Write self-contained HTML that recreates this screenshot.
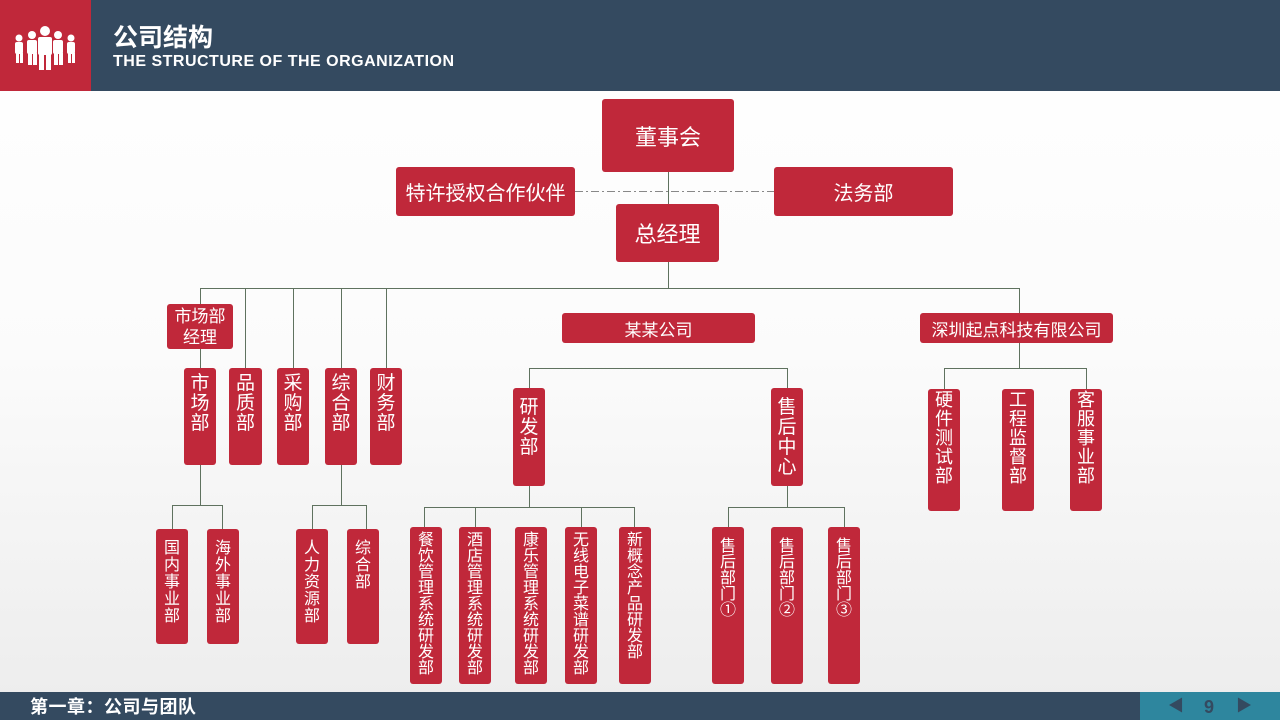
<!DOCTYPE html>
<html><head><meta charset="utf-8"><style>
*{margin:0;padding:0;box-sizing:border-box}
body{width:1280px;height:720px;position:relative;overflow:hidden;font-family:"Liberation Sans","Noto Sans CJK SC",sans-serif;background:linear-gradient(#ffffff 0%,#fbfbfb 50%,#ececec 100%)}
.a{position:absolute}
.b{position:absolute;background:#c0283a;color:#fff;border-radius:3px;display:flex;align-items:center;justify-content:center;text-align:center}
.v{position:absolute;background:#c0283a;color:#fff;border-radius:3px;display:flex;justify-content:center}
.v span{display:block;width:1em;word-break:break-all;text-align:center}
.h{position:absolute;height:1px;background:#5f725f}
.l{position:absolute;width:1px;background:#5f725f}
</style></head><body>
<div class="a" style="left:0;top:0;width:1280px;height:91px;background:#344a60"></div>
<div class="a" style="left:0;top:0;width:91px;height:91px;background:#c0283a"></div>
<svg class="a" style="left:12px;top:26px" width="66" height="46" viewBox="0 0 66 46" fill="#fff">
<circle cx="33" cy="5" r="5"/><rect x="26" y="11" width="14" height="18" rx="2"/><rect x="27" y="28" width="5" height="16"/><rect x="34" y="28" width="5" height="16"/>
<circle cx="20" cy="9" r="4"/><rect x="15" y="14" width="10" height="14" rx="2"/><rect x="16" y="27" width="4" height="12"/><rect x="21" y="27" width="4" height="12"/>
<circle cx="46" cy="9" r="4"/><rect x="41" y="14" width="10" height="14" rx="2"/><rect x="42" y="27" width="4" height="12"/><rect x="47" y="27" width="4" height="12"/>
<circle cx="7" cy="12" r="3.5"/><rect x="3" y="16" width="8" height="12" rx="2"/><rect x="4" y="27" width="3" height="10"/><rect x="8" y="27" width="3" height="10"/>
<circle cx="59" cy="12" r="3.5"/><rect x="55" y="16" width="8" height="12" rx="2"/><rect x="56" y="27" width="3" height="10"/><rect x="60" y="27" width="3" height="10"/>
</svg>
<div class="a" style="left:113px;top:23px;color:#fff;font-size:25px;font-weight:bold;line-height:30px">公司结构</div>
<div class="a" style="left:113px;top:53px;color:#fff;font-size:16px;font-weight:bold;line-height:18px;letter-spacing:0.5px">THE STRUCTURE OF THE ORGANIZATION</div>

<!-- lines -->
<div class="l" style="left:668px;top:172px;height:116px"></div>
<svg class="a" style="left:575px;top:190px" width="199" height="3"><line x1="0" y1="1.5" x2="199" y2="1.5" stroke="#888" stroke-width="1" stroke-dasharray="8,3,2,3"/></svg>
<div class="h" style="left:200px;top:288px;width:820px"></div>
<div class="l" style="left:200px;top:288px;height:217px"></div>
<div class="l" style="left:245px;top:288px;height:80px"></div>
<div class="l" style="left:293px;top:288px;height:80px"></div>
<div class="l" style="left:341px;top:288px;height:217px"></div>
<div class="l" style="left:386px;top:288px;height:80px"></div>
<div class="l" style="left:1019px;top:288px;height:80px"></div>
<div class="h" style="left:172px;top:505px;width:51px"></div>
<div class="l" style="left:172px;top:505px;height:24px"></div>
<div class="l" style="left:222px;top:505px;height:24px"></div>
<div class="h" style="left:312px;top:505px;width:55px"></div>
<div class="l" style="left:312px;top:505px;height:24px"></div>
<div class="l" style="left:366px;top:505px;height:24px"></div>
<div class="h" style="left:529px;top:368px;width:259px"></div>
<div class="l" style="left:529px;top:368px;height:139px"></div>
<div class="l" style="left:787px;top:368px;height:139px"></div>
<div class="h" style="left:424px;top:507px;width:211px"></div>
<div class="l" style="left:424px;top:507px;height:20px"></div>
<div class="l" style="left:475px;top:507px;height:20px"></div>
<div class="l" style="left:581px;top:507px;height:20px"></div>
<div class="l" style="left:634px;top:507px;height:20px"></div>
<div class="h" style="left:728px;top:507px;width:117px"></div>
<div class="l" style="left:728px;top:507px;height:20px"></div>
<div class="l" style="left:844px;top:507px;height:20px"></div>
<div class="h" style="left:944px;top:368px;width:143px"></div>
<div class="l" style="left:944px;top:368px;height:21px"></div>
<div class="l" style="left:1086px;top:368px;height:21px"></div>

<!-- top boxes -->
<div class="b" style="left:602px;top:99px;width:132px;height:73px;font-size:22px">董事会</div>
<div class="b" style="left:396px;top:167px;width:179px;height:49px;font-size:20px">特许授权合作伙伴</div>
<div class="b" style="left:774px;top:167px;width:179px;height:49px;font-size:20px">法务部</div>
<div class="b" style="left:616px;top:204px;width:103px;height:58px;font-size:22px">总经理</div>
<div class="b" style="left:167px;top:304px;width:66px;height:45px;font-size:17px;line-height:21px">市场部<br>经理</div>
<div class="b" style="left:562px;top:313px;width:193px;height:30px;font-size:17px">某某公司</div>
<div class="b" style="left:920px;top:313px;width:193px;height:30px;font-size:17px">深圳起点科技有限公司</div>

<!-- level vertical -->
<div class="v" style="left:184px;top:368px;width:32px;height:97px;font-size:19px;line-height:20px;padding-top:6px"><span>市场部</span></div>
<div class="v" style="left:229px;top:368px;width:33px;height:97px;font-size:19px;line-height:20px;padding-top:6px"><span>品质部</span></div>
<div class="v" style="left:277px;top:368px;width:32px;height:97px;font-size:19px;line-height:20px;padding-top:6px"><span>采购部</span></div>
<div class="v" style="left:325px;top:368px;width:32px;height:97px;font-size:19px;line-height:20px;padding-top:6px"><span>综合部</span></div>
<div class="v" style="left:370px;top:368px;width:32px;height:97px;font-size:19px;line-height:20px;padding-top:6px"><span>财务部</span></div>

<div class="v" style="left:156px;top:529px;width:32px;height:115px;font-size:16px;line-height:17px;padding-top:11px"><span>国内事业部</span></div>
<div class="v" style="left:207px;top:529px;width:32px;height:115px;font-size:16px;line-height:17px;padding-top:11px"><span>海外事业部</span></div>
<div class="v" style="left:296px;top:529px;width:32px;height:115px;font-size:16px;line-height:17px;padding-top:11px"><span>人力资源部</span></div>
<div class="v" style="left:347px;top:529px;width:32px;height:115px;font-size:16px;line-height:17px;padding-top:11px"><span>综合部</span></div>

<div class="v" style="left:513px;top:388px;width:32px;height:98px;font-size:19px;line-height:20px;padding-top:10px"><span>研发部</span></div>
<div class="v" style="left:771px;top:388px;width:32px;height:98px;font-size:19px;line-height:20px;padding-top:10px"><span>售后中心</span></div>

<div class="v" style="left:410px;top:527px;width:32px;height:157px;font-size:16px;line-height:16px;padding-top:6px"><span>餐饮管理系统研发部</span></div>
<div class="v" style="left:459px;top:527px;width:32px;height:157px;font-size:16px;line-height:16px;padding-top:6px"><span>酒店管理系统研发部</span></div>
<div class="v" style="left:515px;top:527px;width:32px;height:157px;font-size:16px;line-height:16px;padding-top:6px"><span>康乐管理系统研发部</span></div>
<div class="v" style="left:565px;top:527px;width:32px;height:157px;font-size:16px;line-height:16px;padding-top:6px"><span>无线电子菜谱研发部</span></div>
<div class="v" style="left:619px;top:527px;width:32px;height:157px;font-size:16px;line-height:16px;padding-top:6px"><span>新概念产品研发部</span></div>

<div class="v" style="left:712px;top:527px;width:32px;height:157px;font-size:16px;line-height:16px;padding-top:12px"><span>售后部门①</span></div>
<div class="v" style="left:771px;top:527px;width:32px;height:157px;font-size:16px;line-height:16px;padding-top:12px"><span>售后部门②</span></div>
<div class="v" style="left:828px;top:527px;width:32px;height:157px;font-size:16px;line-height:16px;padding-top:12px"><span>售后部门③</span></div>

<div class="v" style="left:928px;top:389px;width:32px;height:122px;font-size:18px;line-height:19px;padding-top:2px"><span>硬件测试部</span></div>
<div class="v" style="left:1002px;top:389px;width:32px;height:122px;font-size:18px;line-height:19px;padding-top:2px"><span>工程监督部</span></div>
<div class="v" style="left:1070px;top:389px;width:32px;height:122px;font-size:18px;line-height:19px;padding-top:2px"><span>客服事业部</span></div>

<!-- footer -->
<div class="a" style="left:0;top:692px;width:1280px;height:28px;background:#344a60"></div>
<div class="a" style="left:1140px;top:692px;width:140px;height:28px;background:#2e869e"></div>
<div class="a" style="left:30px;top:696px;color:#fff;font-size:18px;font-weight:bold;line-height:22px;letter-spacing:0.5px">第一章：公司与团队</div>
<div class="a" style="left:1168px;top:697px;color:#344a60;font-size:16px;line-height:20px">◀</div>
<div class="a" style="left:1204px;top:696px;color:#344a60;font-size:18px;font-weight:bold;line-height:22px">9</div>
<div class="a" style="left:1236px;top:697px;color:#344a60;font-size:16px;line-height:20px">▶</div>
</body></html>
